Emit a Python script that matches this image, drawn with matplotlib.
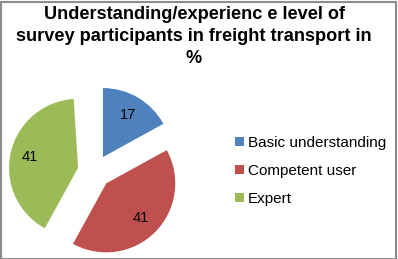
import numpy as np
import matplotlib.pyplot as plt
from matplotlib.patches import Rectangle

plt.rcParams['font.family'] = ['Liberation Sans', 'DejaVu Sans']

categories = ['Basic understanding', 'Competent user', 'Expert']
values = [17, 41, 41]
colors = ['#4F81BD', '#C0504D', '#9BBB59']
title = 'Understanding/experienc e level of\nsurvey participants in freight transport in\n%'

W, H = 398, 259
fig = plt.figure(figsize=(W / 100, H / 100), dpi=100)

# axes over the whole figure, 1 data unit = pie radius (69 px)
r_px = 69.0
cx, cy = 94.4, 171.5
ax = fig.add_axes([0, 0, 1, 1])
wedges, texts, autotexts = ax.pie(
    np.array(values) / 100.0,
    explode=[0.243] * 3,
    colors=colors,
    startangle=90,
    counterclock=False,
    normalize=False,
    autopct='%.0f',
    pctdistance=0.71,
    textprops=dict(fontsize=10.5, color='black'),
)
ax.set_aspect('auto')
ax.set_xlim(-cx / r_px, (W - cx) / r_px)
ax.set_ylim(-(H - cy) / r_px, cy / r_px)
ax.axis('off')

fig.text(194 / W, 1 - 6 / H, title, ha='center', va='top', fontsize=13.1,
         fontweight='bold', linespacing=1.38)

leg = fig.legend(wedges, categories, loc='upper left',
                 bbox_to_anchor=(221.5 / W, 1 - 122 / H), frameon=False,
                 fontsize=11, handlelength=0.55, handleheight=0.55,
                 handletextpad=0.3, labelspacing=0.93)

fig.patches.append(Rectangle((0.5 / W, 0.5 / H), 1 - 2.5 / W, 1 - 2.5 / H,
                             transform=fig.transFigure, fill=False,
                             edgecolor='#8c8c8c', linewidth=1.5))

fig.savefig('out.png', dpi=100)
